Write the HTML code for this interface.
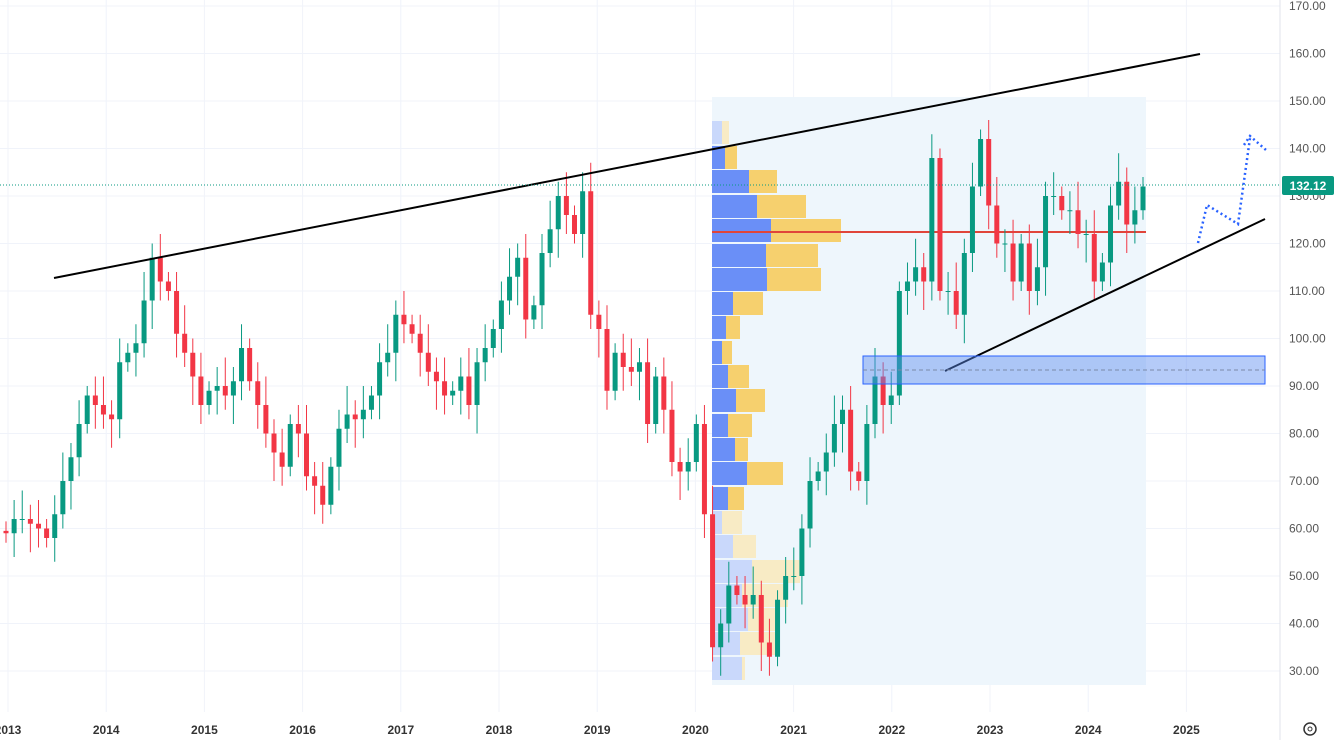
<!DOCTYPE html>
<html><head><meta charset="utf-8"><style>
html,body{margin:0;padding:0;background:#fff;}
svg{display:block;font-family:"Liberation Sans",sans-serif;}
</style></head><body>
<svg id="c" width="1338" height="740" xmlns="http://www.w3.org/2000/svg"></svg>
<script>
const s=document.getElementById('c');let h='';
const Y=p=>6+(170-p)*4.75;
for(let p=30;p<=170;p+=10){h+=`<line x1="0" x2="1280" y1="${Y(p)}" y2="${Y(p)}" stroke="#f0f3fa"/>`;
h+=`<text x="1289" y="${Y(p)+4}" font-size="12" fill="#555">${p}.00</text>`;}
const yrs=[2013,2014,2015,2016,2017,2018,2019,2020,2021,2022,2023,2024,2025];
yrs.forEach((y,i)=>{const x=8+i*98.2;h+=`<line x1="${x}" x2="${x}" y1="0" y2="712" stroke="#f0f3fa"/>`;
h+=`<text x="${x}" y="734" font-size="12" fill="#333" text-anchor="middle" font-weight="bold">${y}</text>`;});
h+=`<line x1="1280" x2="1280" y1="0" y2="740" stroke="#e0e3eb"/>`;
h+=`<rect x="712" y="97" width="434" height="588" fill="#eef6fc"/>`;
const rows=[[121,722,729,1],[146,725,737,0],[170,749,777,0],[195,757,806,0],[219,771,841,0],[244,766,818,0],[268,767,821,0],[292,733,763,0],[316,726,740,0],[341,722,732,0],[365,728,749,0],[389,736,765,0],[414,728,752,0],[438,735,748,0],[462,747,783,0],[487,728,744,0],[511,722,742,1],[535,733,756,1],[560,752,800,1],[584,742,788,1],[608,748,780,1],[632,740,775,1],[657,742,745,1]];
rows.forEach(r=>{const f=r[3];h+=`<rect x="712" y="${r[0]}" width="${r[1]-712}" height="23" fill="${f?'#c9d8fb':'#6a8ff7'}"/>`;
h+=`<rect x="${r[1]}" y="${r[0]}" width="${r[2]-r[1]}" height="23" fill="${f?'#f8ebc5':'#f6d06e'}"/>`;});
h+=`<line x1="712" x2="1146" y1="232" y2="232" stroke="#e0453a" stroke-width="2"/>`;
const c=[59,62,62,61,60,58,63,70,75,82,88,86,84,83,95,97,99,108,117,112,110,101,97,92,86,89,90,88,91,98,91,86,80,76,73,82,80,71,69,65,73,81,84,83,85,88,95,97,105,103,101,97,93,91,88,89,92,86,95,98,102,108,113,117,104,107,118,123,130,126,122,131,105,102,89,97,94,93,95,82,92,85,74,72,74,82,63,35,40,48,46,44,46,36,33,45,50,50,60,70,72,76,82,85,72,70,82,92,86,88,110,112,115,112,138,110,110,105,118,132,142,128,120,120,112,120,110,115,130,130,127,127,122,122,112,116,128,133,124,127,132];
const step=(1143-6)/(c.length-1);
let prev=59.5;
c.forEach((cl,i)=>{const x=6+i*step;const o=prev;const up=cl>=o;const col=up?'#089981':'#f23645';
const hi=Math.max(o,cl)+2+((i*7)%5),lo=Math.min(o,cl)-2-((i*3)%5);
h+=`<line x1="${x}" x2="${x}" y1="${Y(hi)}" y2="${Y(lo)}" stroke="${col}"/>`;
const t=Y(Math.max(o,cl)),b=Y(Math.min(o,cl));h+=`<rect x="${x-2.5}" y="${t}" width="5" height="${Math.max(1,b-t)}" fill="${col}"/>`;prev=cl;});
h+=`<line x1="54" y1="278" x2="1200" y2="54" stroke="#000" stroke-width="2"/>`;
h+=`<line x1="945" y1="371" x2="1265" y2="219" stroke="#000" stroke-width="2"/>`;
h+=`<rect x="863" y="356" width="402" height="28" fill="rgba(90,140,240,0.45)" stroke="#2962ff"/>`;
h+=`<line x1="863" x2="1265" y1="370" y2="370" stroke="#7a8aa8" stroke-dasharray="4,3"/>`;
h+=`<polyline points="1198,243 1207,205 1238,224 1250,138" fill="none" stroke="#2962ff" stroke-width="2.5" stroke-dasharray="2,3"/>`;
h+=`<polyline points="1244,145 1250,136 1266,150" fill="none" stroke="#2962ff" stroke-width="2.5" stroke-dasharray="2,3"/>`;
h+=`<line x1="0" x2="1280" y1="185" y2="185" stroke="#089981" stroke-dasharray="1,2"/>`;
h+=`<rect x="1282" y="176" width="52" height="19" rx="2" fill="#089981"/><text x="1308" y="190" font-size="12" font-weight="bold" fill="#fff" text-anchor="middle">132.12</text>`;
h+=`<circle cx="1310" cy="729" r="6" fill="none" stroke="#333" stroke-width="1.5"/><circle cx="1310" cy="729" r="2" fill="none" stroke="#333"/>`;
s.innerHTML=h;
</script>
</body></html>
